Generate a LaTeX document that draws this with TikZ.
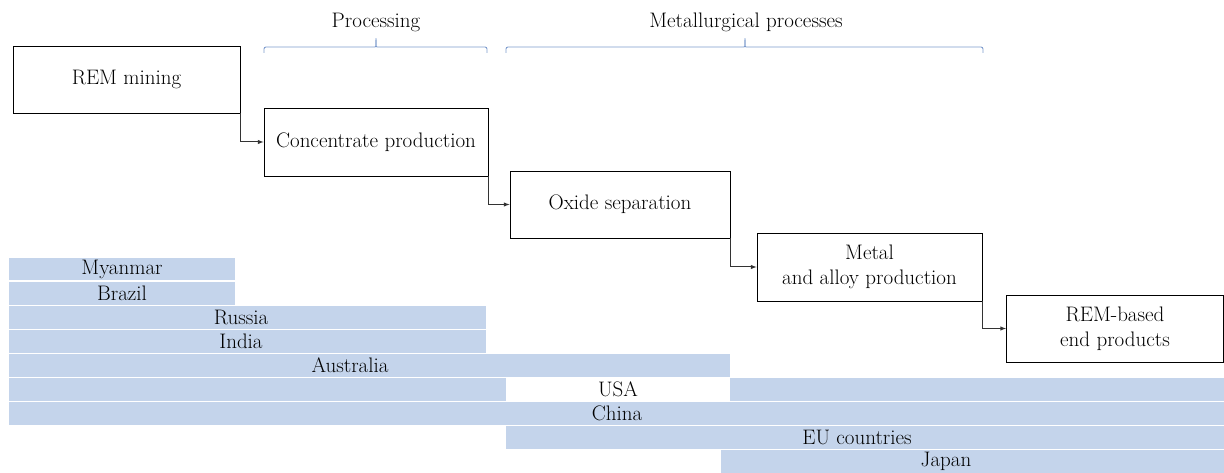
\documentclass[tikz,border=0pt]{standalone}
\usetikzlibrary{positioning,arrows}
\definecolor{barblue}{RGB}{196,212,235}
\definecolor{braceblue}{RGB}{125,155,205}

\begin{document}
\begin{tikzpicture}[x=1pt,y=-1pt,
  every node/.style={font=\fontsize{21}{25}\selectfont},
  stage/.style={draw=black,line width=.8pt,fill=white,align=center,inner sep=0pt},
  link/.style={->,>=latex,draw=black!80,line width=1pt},
  span/.style={draw=braceblue,line width=.9pt,rounded corners=2pt},
  bar/.style={fill=barblue},
  country/.style={inner sep=0pt}]
  \useasboundingbox (0,0) rectangle (1224,473);

  % country bars
  \fill[bar] (9,258) rectangle (235,280.5);
  \fill[bar] (9,282) rectangle (235,304.5);
  \fill[bar] (9,306) rectangle (486,328.5);
  \fill[bar] (9,330) rectangle (486,352.5);
  \fill[bar] (9,354) rectangle (730,376.5);
  \fill[bar] (9,378) rectangle (506,400.5);
  \fill[bar] (730,378) rectangle (1224,400.5);
  \fill[bar] (9,402) rectangle (1224,424.5);
  \fill[bar] (506,426) rectangle (1224,448.5);
  \fill[bar] (721,450) rectangle (1224,473);

  \node[country] (myanmar)   at (122,269.3) {Myanmar};
  \node[country] (brazil)    at (122,293.3) {Brazil};
  \node[country] (russia)    at (241,317.3) {Russia};
  \node[country] (india)     at (241,341.3) {India};
  \node[country] (australia) at (350,365.3) {Australia};
  \node[country] (usa)       at (618,389.3) {USA};
  \node[country] (china)     at (617,413.3) {China};
  \node[country] (eu)        at (857,437.3) {EU countries};
  \node[country] (japan)     at (946,461.5) {Japan};

  % value chain
  \node[stage,minimum width=227pt,minimum height=67pt] (mining) at (126.5,79.5) {REM mining};
  \node[stage,minimum width=224pt,minimum height=68pt] (conc)   at (376,142)    {Concentrate production};
  \node[stage,minimum width=220pt,minimum height=67pt] (oxide)  at (620,204.5)  {Oxide separation};
  \node[stage,minimum width=225pt,minimum height=68pt] (metal)  at (869.5,267)  {Metal\\and alloy production};
  \node[stage,minimum width=217pt,minimum height=67pt] (endprod) at (1115,328.5) {REM-based\\end products};

  \draw[link] (mining.south east) |- (conc.west);
  \draw[link] (conc.south east)   |- (oxide.west);
  \draw[link] (oxide.south east)  |- (metal.west);
  \draw[link] (metal.south east)  |- (endprod.west);

  % stage groups
  \coordinate (proctip) at (376,37);
  \coordinate (mettip)  at (745,37);
  \draw[span] (264,53) |- (373,47) to[out=0,in=-90] (proctip) to[out=-90,in=180] (379,47) -| (487,53);
  \draw[span] (506,53) |- (742,47) to[out=0,in=-90] (mettip) to[out=-90,in=180] (748,47) -| (983,53);
  \node (proc)   at (376,22) {Processing};
  \node (metall) at (746,22) {Metallurgical processes};
\end{tikzpicture}
\end{document}
